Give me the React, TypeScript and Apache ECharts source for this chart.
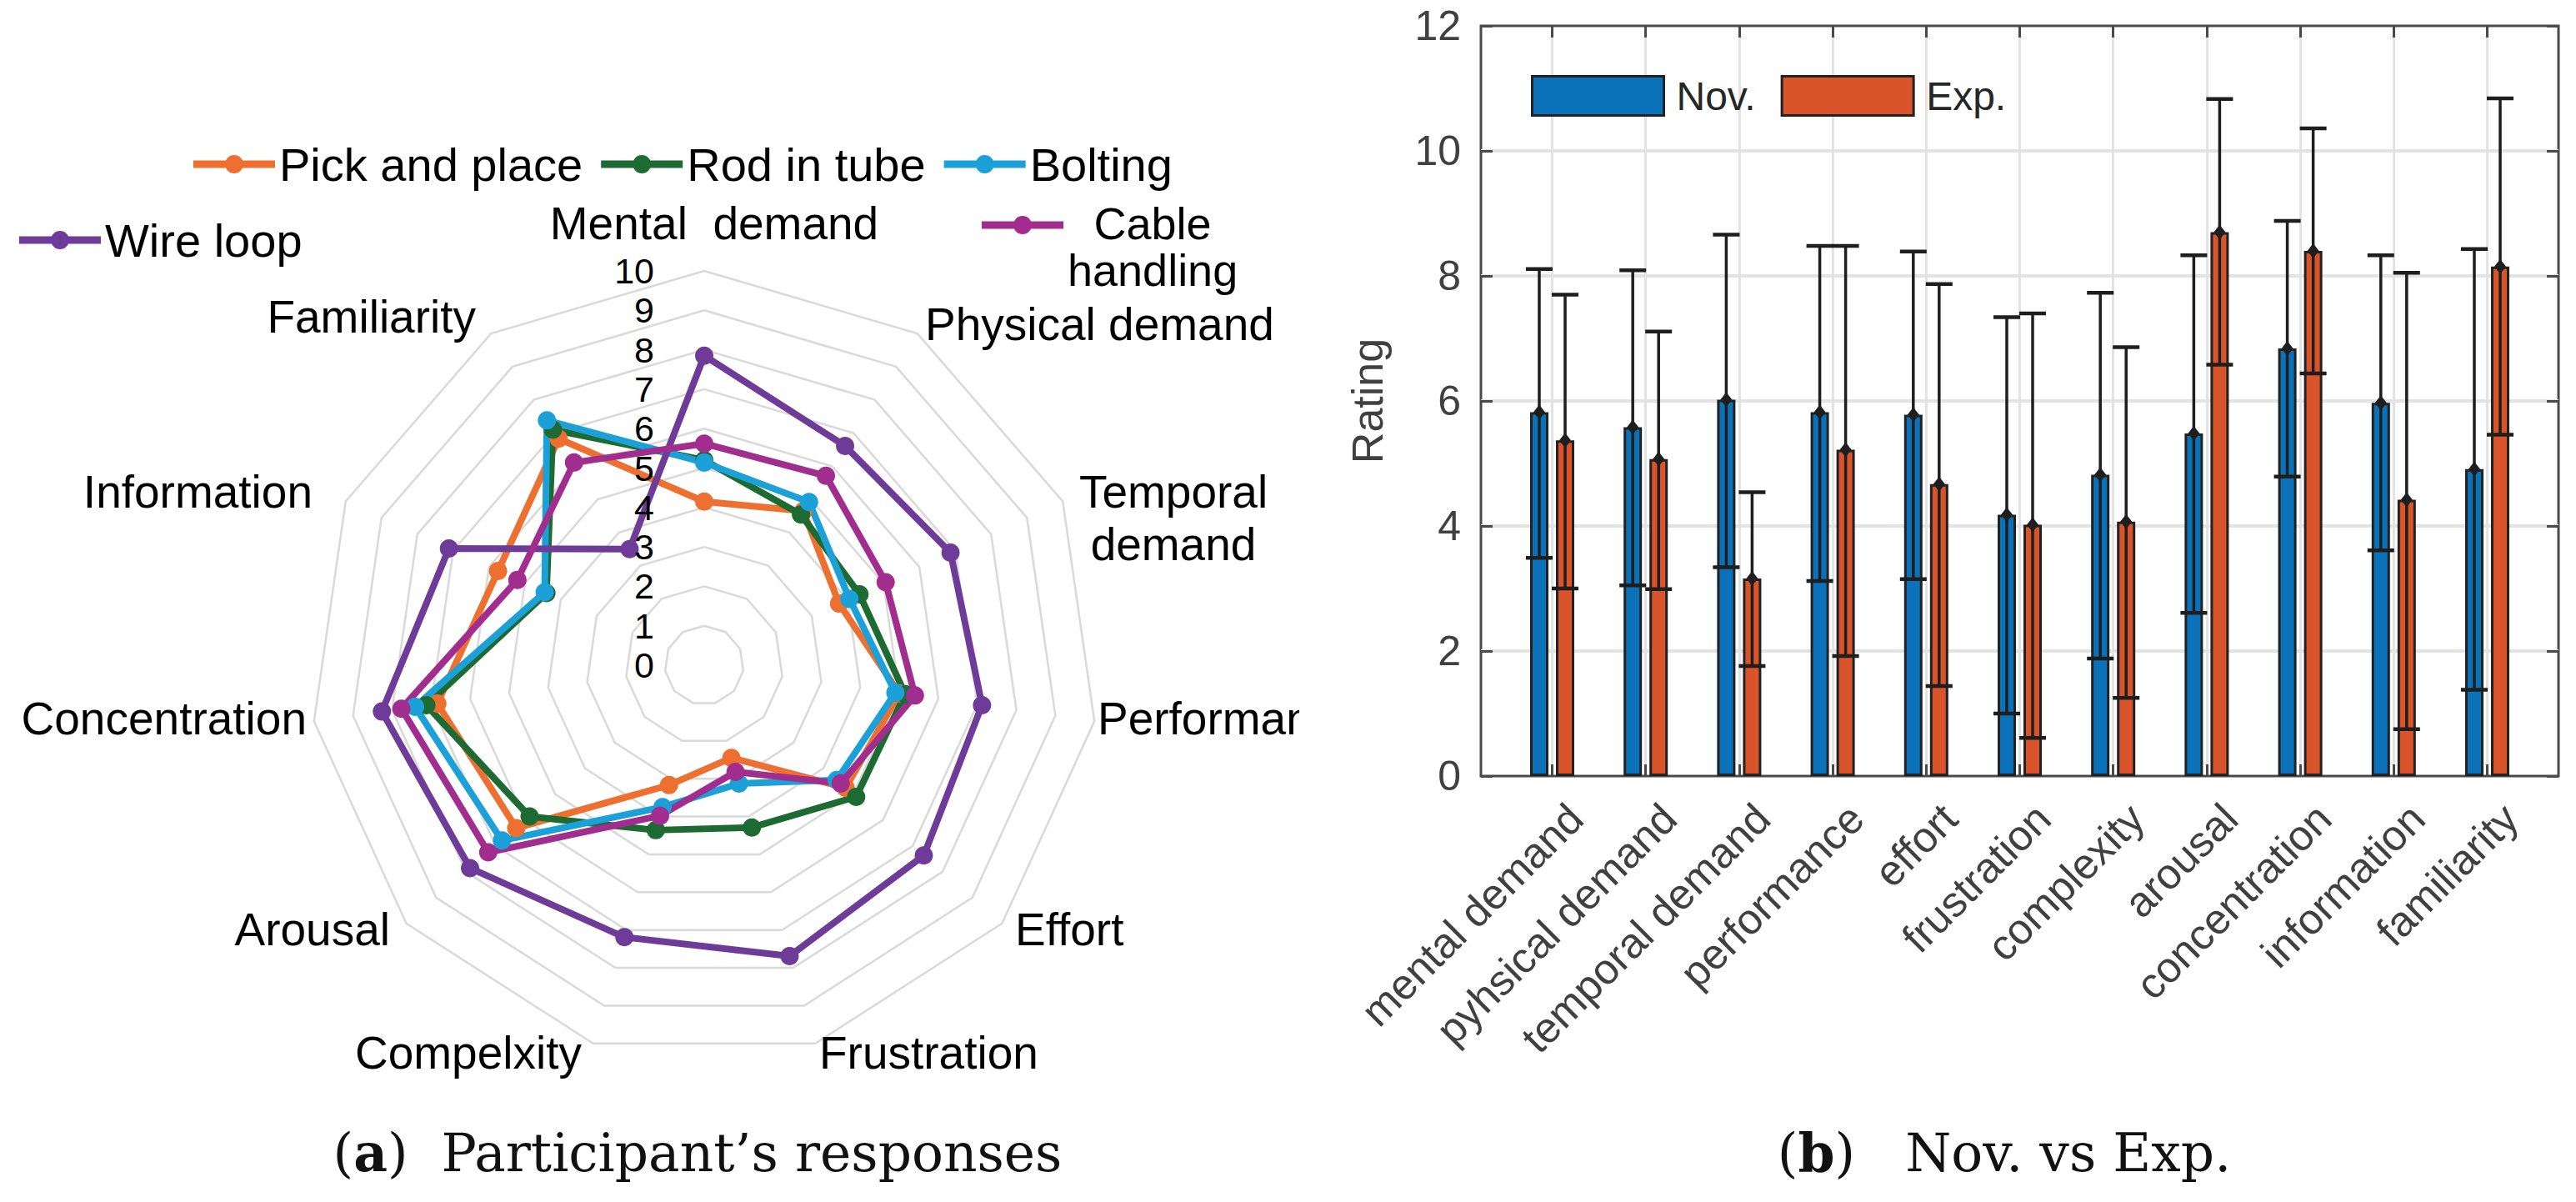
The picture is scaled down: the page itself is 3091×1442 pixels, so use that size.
import React, { useEffect, useRef } from "react";
import * as echarts from "echarts";

// ---------------- data ----------------
const radarAxisNames = [
  "Mental  demand",
  "Physical demand",
  "Temporal\ndemand",
  "Performance",
  "Effort",
  "Frustration",
  "Compelxity",
  "Arousal",
  "Concentration",
  "Information",
  "Familiarity",
];
const radarTickValues = [0, 1, 2, 3, 4, 5, 6, 7, 8, 9, 10];
const taskNames = ["Pick and place", "Rod in tube", "Bolting", "Wire loop", "Cable handling"];
const taskColors = ["#ED7031", "#1D6B33", "#1BA1D8", "#6E3B99", "#A12D8F"];
const pickAndPlace = [4.15, 4.65, 3.76, 5.0, 4.75, 2.45, 3.17, 6.31, 6.84, 5.75, 6.83];
const rodInTube = [5.2, 4.54, 4.33, 5.15, 5.1, 4.29, 4.36, 5.86, 7.12, 4.4, 7.1];
const bolting = [5.14, 4.92, 4.05, 4.9, 4.45, 3.13, 3.75, 6.79, 7.41, 4.45, 7.38];
const wireLoop = [7.85, 6.61, 6.87, 7.12, 7.37, 7.69, 7.19, 7.86, 8.26, 7.12, 3.5];
const cableHandling = [5.62, 5.71, 5.06, 5.4, 4.58, 2.82, 3.98, 7.25, 7.76, 5.21, 6.11];

const barCategories = [
  "mental demand",
  "pyhsical demand",
  "temporal demand",
  "performance",
  "effort",
  "frustration",
  "complexity",
  "arousal",
  "concentration",
  "information",
  "familiarity",
];
const groupNames = ["Nov.", "Exp."];
const novMean = [5.82, 5.58, 6.02, 5.82, 5.78, 4.18, 4.82, 5.48, 6.84, 5.97, 4.91];
const novLower = [3.49, 3.05, 3.34, 3.12, 3.15, 1.0, 1.88, 2.61, 4.79, 3.61, 1.38];
const novUpper = [8.11, 8.09, 8.66, 8.48, 8.39, 7.34, 7.73, 8.33, 8.88, 8.33, 8.43];
const expMean = [5.37, 5.07, 3.16, 5.22, 4.67, 4.02, 4.07, 8.7, 8.4, 4.42, 8.15];
const expLower = [3.0, 2.99, 1.76, 1.92, 1.44, 0.61, 1.25, 6.58, 6.44, 0.75, 5.46];
const expUpper = [7.7, 7.11, 4.54, 8.48, 7.87, 7.4, 6.86, 10.83, 10.36, 8.05, 10.84];
const ratingTicks = { min: 0, max: 12, step: 2 };

// ---------------- layout / style ----------------
const W = 3091;
const H = 1442;
const LEFT_W = 1559;
const SANS = "Liberation Sans, Arial, Helvetica, sans-serif";
const SERIF = "DejaVu Serif, serif";

const RADAR_CX = 845;
const RADAR_CY = 798;
const RADAR_R = 473;
// ECharts lays radar indicators counter-clockwise; the reference goes clockwise
const ORDER = radarAxisNames.map((_, k) => (radarAxisNames.length - k) % radarAxisNames.length);

const LEGEND_ICON =
  "path://M0,6.5H98V15.5H0Z M38,11A11,11 0 1,1 60,11A11,11 0 1,1 38,11Z";
// same icon, kept at the top of a taller (74px) box so it lines up with the first text line
const LEGEND_ICON_TOP =
  "path://M0,6.5H98V15.5H0Z M38,11A11,11 0 1,1 60,11A11,11 0 1,1 38,11Z M0,73.9H0.1V74H0Z";

// label placements for the radar axis names
const radarNamePlacement = [
  { x: 857, y: 268, align: "center" },
  { x: 1110, y: 389, align: "left" },
  { x: 1408, y: 621, align: "center" },
  { x: 1317, y: 862, align: "left" },
  { x: 1218, y: 1115, align: "left" },
  { x: 983, y: 1263, align: "left" },
  { x: 698, y: 1263, align: "right" },
  { x: 468, y: 1115, align: "right" },
  { x: 368, y: 862, align: "right" },
  { x: 375, y: 590, align: "right" },
  { x: 571, y: 380, align: "right" },
];

function textEl(text: string, x: number, y: number, align: string, extra: any = {}) {
  return {
    type: "text",
    x,
    y,
    z: 100,
    silent: true,
    style: {
      text,
      fontSize: 55,
      fontFamily: SANS,
      fill: "#000",
      align,
      textAlign: align,
      verticalAlign: "middle",
      textVerticalAlign: "middle",
      lineHeight: 50,
      ...extra,
    },
  };
}

function buildLeft(): any {
  const seriesArrays = [pickAndPlace, rodInTube, bolting, wireLoop, cableHandling];
  const legendText = { fontSize: 56, fontFamily: SANS, color: "#000", lineHeight: 60 };
  const legendBase = {
    orient: "horizontal",
    itemWidth: 98,
    itemHeight: 22,
    icon: LEGEND_ICON,
    padding: 0,
    selectedMode: false,
    itemStyle: { borderWidth: 0 },
    textStyle: legendText,
  };
  const graphics: any[] = [];
  radarAxisNames.forEach((name, i) => {
    const p = radarNamePlacement[i];
    graphics.push(textEl(name, p.x, p.y, p.align, name.includes("\n") ? { lineHeight: 63 } : {}));
  });
  radarTickValues.forEach((v) => {
    graphics.push(
      textEl(String(v), 785, RADAR_CY - (v / 10) * RADAR_R, "right", { fontSize: 43, lineHeight: 44 })
    );
  });
  graphics.push({
    type: "text",
    x: 837,
    y: 1383,
    z: 100,
    style: {
      text: "({b|a})  Participant\u2019s responses",
      fontSize: 63,
      fontFamily: SERIF,
      fill: "#111",
      align: "center",
      textAlign: "center",
      verticalAlign: "middle",
      textVerticalAlign: "middle",
      rich: { b: { fontSize: 63, fontFamily: SERIF, fontWeight: "bold", fill: "#111" } },
    },
  });

  return {
    animation: false,
    backgroundColor: "#fff",
    radar: {
      center: [RADAR_CX, RADAR_CY],
      radius: RADAR_R,
      startAngle: 90,
      splitNumber: 10,
      shape: "polygon",
      silent: true,
      indicator: ORDER.map((k) => ({ name: radarAxisNames[k], min: 0, max: 10 })),
      axisName: { show: false },
      axisLine: { show: false },
      axisTick: { show: false },
      axisLabel: { show: false },
      splitLine: { lineStyle: { color: "#d9d9d9", width: 2.5 } },
      splitArea: { show: false },
    },
    legend: [
      { ...legendBase, data: taskNames.slice(0, 3), left: 232, top: 167, itemGap: 22 },
      { ...legendBase, data: [taskNames[3]], left: 23, top: 258 },
      {
        ...legendBase,
        data: [taskNames[4]],
        left: 1178,
        top: 240,
        icon: LEGEND_ICON_TOP,
        itemHeight: 74,
        formatter: (n: string) => n.split(" ").map((w) => `{c|${w}}`).join("\n"),
        textStyle: {
          ...legendText,
          fontSize: 54,
          lineHeight: 56,
          rich: { c: { align: "center", fontSize: 54, fontFamily: SANS, color: "#000", lineHeight: 56 } },
        },
      },
    ],
    series: [
      {
        type: "radar",
        silent: true,
        symbol: "circle",
        symbolSize: 22,
        data: seriesArrays.map((arr, s) => ({
          name: taskNames[s],
          value: ORDER.map((k) => arr[k]),
          lineStyle: { color: taskColors[s], width: 8 },
          itemStyle: { color: taskColors[s] },
        })),
      },
    ],
    graphic: graphics,
  };
}

const FRAME_LEFT = 1777 - LEFT_W;
const FRAME_TOP = 31;
const FRAME_W = 1293;
const FRAME_H = 900;
const BAND = 112.2;
const BAR_LEFT = 1862.5 - LEFT_W;
const BAR_W = 22;
const BAR_GAP = 0.41;
const OFFSET = (BAR_W * (1 + BAR_GAP)) / 2;
const CAP = 16;
const AX = "#4a4a4a";
const LBL = "#404040";

function errorBar(offset: number) {
  return (_params: any, api: any) => {
    const idx = api.value(0);
    const lo = api.coord([idx, api.value(1)]);
    const hi = api.coord([idx, api.value(2)]);
    const mid = api.coord([idx, api.value(3)]);
    const x = lo[0] + offset;
    const st = { stroke: "#1e1e1e", lineWidth: 3.5 };
    const cap = { stroke: "#1e1e1e", lineWidth: 4.5 };
    return {
      type: "group",
      children: [
        { type: "line", shape: { x1: x, y1: hi[1], x2: x, y2: lo[1] }, style: st },
        { type: "line", shape: { x1: x - CAP, y1: hi[1], x2: x + CAP, y2: hi[1] }, style: cap },
        { type: "line", shape: { x1: x - CAP, y1: lo[1], x2: x + CAP, y2: lo[1] }, style: cap },
        {
          type: "polygon",
          shape: {
            points: [
              [x, mid[1] - 9],
              [x + 7, mid[1]],
              [x, mid[1] + 9],
              [x - 7, mid[1]],
            ],
          },
          style: { fill: "#1e1e1e" },
        },
      ],
    };
  };
}

function buildRight(): any {
  const tick = { show: true, inside: true, length: 14, lineStyle: { color: AX, width: 3 } };
  return {
    animation: false,
    backgroundColor: "#fff",
    grid: [
      {
        left: FRAME_LEFT,
        top: FRAME_TOP,
        width: FRAME_W,
        height: FRAME_H,
        show: true,
        borderColor: AX,
        borderWidth: 3,
        backgroundColor: "transparent",
        containLabel: false,
        outerBoundsMode: "none",
      },
      {
        left: BAR_LEFT,
        top: FRAME_TOP,
        width: BAND * (barCategories.length - 1),
        height: FRAME_H,
        containLabel: false,
        outerBoundsMode: "none",
      },
    ],
    xAxis: [
      { gridIndex: 0, type: "value", min: 0, max: 1, show: false },
      {
        gridIndex: 1,
        type: "category",
        data: barCategories,
        boundaryGap: false,
        axisLine: { show: false },
        axisTick: { ...tick, interval: 0 },
        axisLabel: {
          interval: 0,
          rotate: 45,
          margin: 14,
          fontSize: 51,
          fontFamily: SANS,
          color: LBL,
          verticalAlign: "top",
          lineHeight: 80,
        },
        splitLine: { show: true, interval: 0, lineStyle: { color: "#e3e3e3", width: 3 } },
      },
      {
        gridIndex: 1,
        type: "category",
        data: barCategories,
        position: "top",
        boundaryGap: false,
        axisLine: { show: false },
        axisTick: { ...tick, interval: 0 },
        axisLabel: { show: false },
        splitLine: { show: false },
      },
    ],
    yAxis: [
      {
        gridIndex: 0,
        type: "value",
        min: ratingTicks.min,
        max: ratingTicks.max,
        interval: ratingTicks.step,
        name: "Rating",
        nameLocation: "middle",
        nameGap: 110,
        nameTextStyle: { fontSize: 52, fontFamily: SANS, color: LBL },
        axisLine: { show: false },
        axisTick: tick,
        axisLabel: { fontSize: 50, fontFamily: SANS, color: LBL, margin: 24 },
        splitLine: {
          show: true,
          showMinLine: false,
          showMaxLine: false,
          lineStyle: { color: "#e3e3e3", width: 4 },
        },
      },
      {
        gridIndex: 0,
        type: "value",
        position: "right",
        min: ratingTicks.min,
        max: ratingTicks.max,
        interval: ratingTicks.step,
        axisLine: { show: false },
        axisTick: tick,
        axisLabel: { show: false },
        splitLine: { show: false },
      },
      {
        gridIndex: 1,
        type: "value",
        min: ratingTicks.min,
        max: ratingTicks.max,
        interval: ratingTicks.step,
        show: false,
      },
    ],
    legend: {
      data: groupNames,
      left: 1837 - LEFT_W,
      top: 90,
      itemWidth: 158,
      itemHeight: 47,
      itemGap: 30,
      icon: "rect",
      padding: 0,
      selectedMode: false,
      itemStyle: { borderColor: "#222", borderWidth: 3 },
      textStyle: { fontSize: 48, fontFamily: SANS, color: "#262626", lineHeight: 50, padding: [0, 0, 0, 10] },
    },
    series: [
      {
        name: groupNames[0],
        type: "bar",
        xAxisIndex: 1,
        yAxisIndex: 2,
        data: novMean,
        barWidth: BAR_W,
        barGap: `${BAR_GAP * 100}%`,
        clip: false,
        silent: true,
        itemStyle: { color: "#0B72BA", borderColor: "#222", borderWidth: 3 },
      },
      {
        name: groupNames[1],
        type: "bar",
        xAxisIndex: 1,
        yAxisIndex: 2,
        data: expMean,
        barWidth: BAR_W,
        barGap: `${BAR_GAP * 100}%`,
        clip: false,
        silent: true,
        itemStyle: { color: "#D9542A", borderColor: "#222", borderWidth: 3 },
      },
      {
        name: "Nov. range",
        type: "custom",
        xAxisIndex: 1,
        yAxisIndex: 2,
        clip: false,
        silent: true,
        z: 5,
        encode: { x: 0, y: [1, 2, 3] },
        data: novMean.map((m, i) => [i, novLower[i], novUpper[i], m]),
        renderItem: errorBar(-OFFSET),
      },
      {
        name: "Exp. range",
        type: "custom",
        xAxisIndex: 1,
        yAxisIndex: 2,
        clip: false,
        silent: true,
        z: 5,
        encode: { x: 0, y: [1, 2, 3] },
        data: expMean.map((m, i) => [i, expLower[i], expUpper[i], m]),
        renderItem: errorBar(OFFSET),
      },
    ],
    graphic: [
      {
        type: "text",
        x: 2405 - LEFT_W,
        y: 1383,
        z: 100,
        style: {
          text: "({b|b})   Nov. vs Exp.",
          fontSize: 63,
          fontFamily: SERIF,
          fill: "#111",
          align: "center",
          textAlign: "center",
          verticalAlign: "middle",
          textVerticalAlign: "middle",
          rich: { b: { fontSize: 63, fontFamily: SERIF, fontWeight: "bold", fill: "#111" } },
        },
      },
    ],
  };
}

export default function App() {
  const leftRef = useRef<HTMLDivElement>(null);
  const rightRef = useRef<HTMLDivElement>(null);
  useEffect(() => {
    const left = echarts.init(leftRef.current as HTMLDivElement, null, { renderer: "svg" });
    left.setOption(buildLeft());
    const right = echarts.init(rightRef.current as HTMLDivElement, null, { renderer: "svg" });
    right.setOption(buildRight());
    return () => {
      left.dispose();
      right.dispose();
    };
  }, []);
  return (
    <div
      style={{
        position: "fixed",
        left: 0,
        top: 0,
        width: W,
        height: H,
        background: "#fff",
        overflow: "hidden",
      }}
    >
      <div ref={leftRef} style={{ position: "absolute", left: 0, top: 0, width: LEFT_W, height: H }} />
      <div
        ref={rightRef}
        style={{ position: "absolute", left: LEFT_W, top: 0, width: W - LEFT_W, height: H }}
      />
    </div>
  );
}
